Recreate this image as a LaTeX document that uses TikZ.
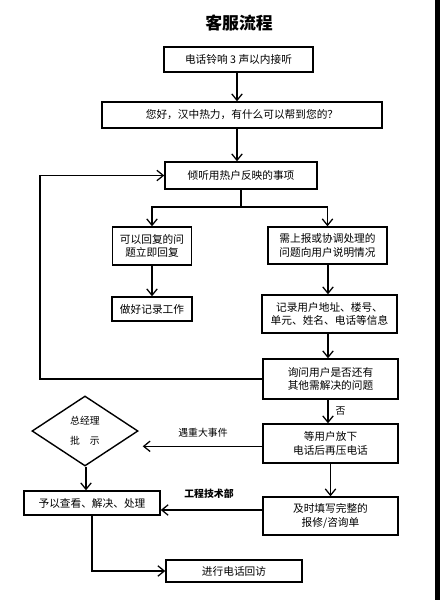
\documentclass[tikz,border=0pt]{standalone}
\usepackage{fontspec}
\setmainfont{Noto Sans CJK SC}
\usepackage{tikz}
\usetikzlibrary{arrows.meta, shapes.geometric, positioning}
\tikzset{
  flowbox/.style={
    draw, line width=1pt, align=center, inner sep=1pt,
    font=\fontsize{7.6}{9.6}\selectfont, fill=white
  },
  flowdiamond/.style={
    diamond, draw, line width=1pt, align=center, inner sep=0pt,
    font=\fontsize{7}{9}\selectfont
  },
  flowarrow/.style={
    -{Straight Barb[length=1.6mm, width=2.6mm]}, line width=0.9pt
  },
  flowline/.style={line width=0.9pt},
  flowlabel/.style={font=\fontsize{7}{8}\selectfont, inner sep=0pt},
}

\begin{document}
\begin{tikzpicture}[x=0.025cm, y=-0.025cm]
  \useasboundingbox (0,0) rectangle (440,600);
  \fill (435,0) rectangle (440,600);

  % Title
  \node[font=\fontsize{12}{14}\selectfont\bfseries] (title) at (239,23) {客服流程};

  % Main chain
  \node[flowbox, minimum width=3.725cm, minimum height=0.625cm]
    (ring) at (238.5,59.5) {电话铃响 3 声以内接听};
  \node[flowbox, minimum width=7cm, minimum height=0.65cm]
    (greet) at (242,115) {您好，汉中热力，有什么可以帮到您的？};
  \node[flowbox, minimum width=3.8cm, minimum height=0.675cm]
    (listen) at (241,175.5) {倾听用热户反映的事项};

  % Left branch
  \node[flowbox, minimum width=1.975cm, minimum height=0.95cm]
    (answer) at (152,246) {可以回复的问\\题立即回复};
  \node[flowbox, minimum width=2cm, minimum height=0.6cm]
    (record) at (152,309) {做好记录工作};

  % Right branch
  \node[flowbox, minimum width=2.975cm, minimum height=0.925cm]
    (report) at (327.5,245.5) {需上报或协调处理的\\问题向用户说明情况};
  \node[flowbox, minimum width=3.375cm, minimum height=0.95cm]
    (info) at (329.5,314) {记录用户地址、楼号、\\单元、姓名、电话等信息};
  \node[flowbox, minimum width=3.375cm, minimum height=1cm]
    (ask) at (330.5,379) {询问用户是否还有\\其他需解决的问题};
  \node[flowbox, minimum width=3.375cm, minimum height=0.975cm]
    (hangup) at (330.5,443.5) {等用户放下\\电话后再压电话};
  \node[flowbox, minimum width=3.375cm, minimum height=0.95cm]
    (form) at (330.5,516) {及时填写完整的\\报修/咨询单};

  % Approval and handling
  \node[flowdiamond, minimum width=2.65cm, minimum height=1.75cm]
    (boss) at (85,431) {总经理\\[5pt]批\quad 示};
  \node[flowbox, minimum width=3.4cm, minimum height=0.6cm]
    (handle) at (92,503) {予以查看、解决、处理};
  \node[flowbox, minimum width=3.4cm, minimum height=0.55cm]
    (callback) at (234,571) {进行电话回访};

  % Connectors
  \draw[flowarrow] (ring.south -| 237,0) -- (greet.north -| 237,0);
  \draw[flowarrow] (greet.south -| 237,0) -- (listen.north -| 237,0);

  \coordinate (split) at (241,207);
  \draw[flowline] (listen.south) -- (split);
  \draw[flowarrow] (split) -| (answer.north);
  \draw[flowarrow] (split) -| (report.north);

  \draw[flowarrow] (answer) -- (record);
  \draw[flowarrow] (report.south -| 328,0) -- (info.north -| 328,0);
  \draw[flowarrow] (info.south -| 328,0) -- (ask.north -| 328,0);
  \draw[flowarrow] (ask.south -| 328,0) --
    node[flowlabel, right=5pt] (nolbl) {否} (hangup.north -| 328,0);

  % Loop back
  \coordinate (loop) at (40,379);
  \draw[flowarrow] (ask.west) -- (loop) |- (listen.west);

  % Major events
  \draw[flowarrow, shorten >=0.1cm] ([yshift=-0.07cm]hangup.west) coordinate (hw)
    -- (hw -| boss.east);
  \node[flowlabel] (majorlbl) at (203,433) {遇重大事件};

  \draw[flowarrow] (boss.south -| 86,0) -- (handle.north -| 86,0);
  \draw[flowarrow] (hangup.south) -- (form.north);

  % Engineering department
  \draw[flowarrow] ([yshift=0.15cm]form.west) coordinate (fw)
    -- (fw -| handle.east);
  \node[flowlabel, font=\fontsize{7}{8}\selectfont\bfseries] (englbl) at (209,494) {工程技术部};

  \draw[flowarrow] (handle.south) |- (callback.west);
\end{tikzpicture}
\end{document}
